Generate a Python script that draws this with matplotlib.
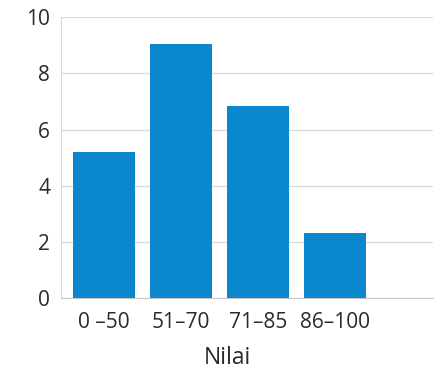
import matplotlib.pyplot as plt

categories = ["0 –50", "51–70", "71–85", "86–100"]
counts = [5.2, 9.05, 6.85, 2.3]
yticks = [0, 2, 4, 6, 8, 10]

plt.rcParams['font.family'] = ['Open Sans', 'DejaVu Sans']

fig = plt.figure(figsize=(4.43, 3.70), dpi=100)
ax = fig.add_axes([0.138, 0.195, 0.839, 0.758])

ax.bar(range(len(categories)), counts, width=0.8, color='#0a87cd', zorder=3)

ax.set_xlim(-0.56, 4.27)
ax.set_ylim(0, 10)
ax.set_yticks(yticks)
ax.set_xticks(range(len(categories)))
ax.set_xticklabels(categories)
ax.grid(axis='y', color='#dcdcdc', linewidth=1, zorder=0)

for side in ['top', 'right']:
    ax.spines[side].set_visible(False)
ax.spines['left'].set_color('#d8d8d8')
ax.spines['bottom'].set_color('#c8c8c8')

ax.tick_params(length=0, labelsize=15, colors='#2a2a2a')
ax.tick_params(axis='y', pad=8)
ax.tick_params(axis='x', pad=10)
ax.set_xlabel("Nilai", fontsize=16.5, color='#2a2a2a')
ax.xaxis.set_label_coords(0.446, -0.17)

fig.savefig("out.png", dpi=100)
